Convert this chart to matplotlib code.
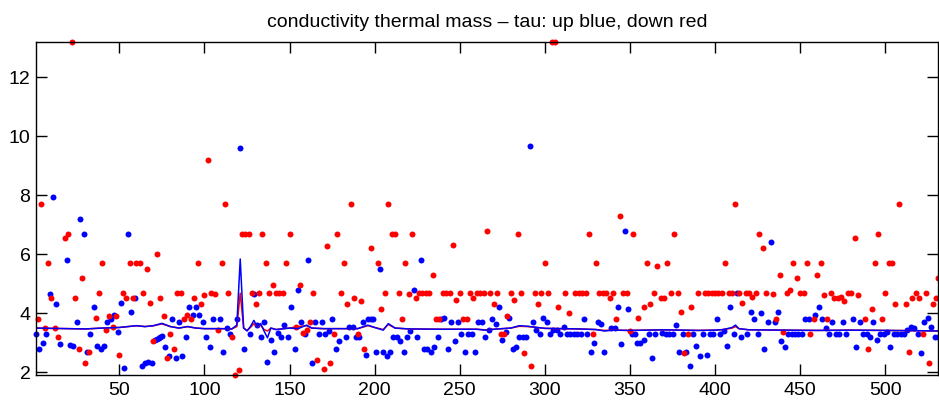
import numpy as np
import matplotlib
matplotlib.use("Agg")
import matplotlib.pyplot as plt

plt.rcParams['font.family'] = ['Liberation Sans', 'DejaVu Sans']

# "up" steps (blue)
up_x = [1, 3, 5, 7, 9, 11, 13, 15, 19, 21, 23, 25, 27, 29, 31, 33, 35, 37, 39, 41,
        43, 45, 47, 49, 51, 53, 55, 57, 59, 63, 65, 67, 69, 71, 72, 73, 74, 75, 77, 79,
        81, 83, 85, 87, 89, 91, 93, 95, 97, 99, 101, 103, 105, 109, 111, 113, 115, 119, 121, 123,
        127, 129, 131, 133, 135, 137, 139, 141, 143, 145, 147, 149, 151, 153, 155, 157, 159, 161, 163, 165,
        167, 169, 171, 173, 175, 177, 179, 183, 185, 187, 189, 191, 193, 195, 196, 198, 199, 201, 203, 205,
        207, 209, 211, 213, 215, 217, 219, 221, 223, 225, 227, 229, 231, 233, 235, 237, 239, 241, 243, 245,
        247, 249, 251, 253, 255, 257, 259, 261, 263, 265, 267, 269, 271, 273, 275, 277, 279, 281, 283, 285,
        287, 289, 291, 293, 295, 297, 299, 301, 303, 305, 307, 309, 311, 313, 315, 317, 319, 321, 323, 325,
        327, 329, 331, 333, 335, 339, 341, 343, 345, 347, 349, 351, 353, 354, 356, 358, 361, 363, 365, 369,
        371, 373, 375, 377, 379, 381, 383, 385, 387, 389, 391, 393, 395, 397, 399, 401, 403, 405, 407, 409,
        411, 413, 415, 419, 421, 423, 425, 427, 429, 431, 433, 435, 437, 439, 441, 443, 445, 447, 449, 451,
        453, 455, 459, 461, 463, 465, 467, 469, 471, 473, 475, 477, 481, 483, 485, 487, 489, 491, 493, 495,
        497, 499, 501, 503, 505, 507, 509, 511, 513, 515, 517, 519, 521, 523, 525, 527, 529, 531]
up_y = [3.31, 2.8, 3.0, 3.31, 4.65, 7.94, 4.3, 2.95, 5.81, 2.93, 2.9, 3.71, 7.21, 6.7, 2.7, 3.31, 4.2, 2.9, 2.8, 2.9,
        3.71, 3.81, 3.95, 3.36, 4.36, 2.16, 6.7, 4.06, 4.51, 2.2, 2.3, 2.36, 2.3, 3.1, 3.13, 3.16, 3.2, 3.22, 2.85, 2.55,
        3.81, 2.5, 3.71, 2.55, 3.2, 4.2, 3.95, 4.2, 3.95, 3.71, 3.2, 2.85, 3.81, 3.81, 2.7, 3.5, 3.3, 3.81, 9.59, 2.8,
        3.3, 4.65, 3.6, 3.2, 3.71, 2.35, 3.1, 2.7, 3.34, 3.2, 3.6, 3.2, 4.2, 2.8, 4.8, 3.71, 3.3, 5.81, 2.3, 3.71,
        3.3, 3.71, 3.3, 3.4, 3.81, 2.8, 3.06, 3.2, 3.55, 3.55, 3.2, 3.2, 3.71, 2.6, 3.81, 3.81, 3.81, 2.7, 5.5, 2.7,
        2.55, 2.7, 3.2, 3.2, 3.06, 2.7, 3.2, 3.4, 4.8, 3.2, 5.81, 2.8, 2.8, 2.7, 2.85, 3.2, 3.81, 3.85, 2.8, 3.71,
        3.06, 3.71, 3.3, 2.7, 3.3, 3.3, 2.7, 3.71, 3.71, 3.2, 3.45, 3.81, 3.65, 4.2, 3.1, 3.38, 3.85, 2.8, 2.85, 3.2,
        3.2, 3.2, 9.68, 3.71, 3.45, 3.3, 3.85, 3.71, 3.3, 3.45, 3.45, 3.3, 3.55, 3.3, 3.3, 3.3, 3.3, 3.3, 3.81, 3.3,
        2.7, 3.0, 3.71, 3.65, 2.7, 3.5, 3.5, 4.2, 2.95, 6.8, 4.16, 3.3, 3.3, 3.0, 3.0, 3.1, 3.3, 2.5, 3.3, 3.33,
        3.3, 3.3, 3.3, 3.6, 2.7, 3.3, 2.7, 2.2, 3.3, 2.9, 2.55, 3.3, 2.6, 3.3, 3.3, 3.81, 3.3, 3.4, 2.9, 4.2,
        3.3, 4.7, 3.2, 3.3, 4.06, 3.81, 3.3, 4.01, 2.8, 3.71, 6.4, 3.71, 4.06, 3.06, 2.85, 3.3, 3.3, 3.3, 3.3, 3.3,
        3.81, 3.81, 3.95, 4.2, 3.81, 3.5, 3.3, 3.71, 3.3, 3.3, 3.71, 3.3, 3.81, 2.85, 3.71, 3.3, 3.3, 3.2, 3.71, 3.1,
        3.3, 3.3, 3.36, 2.85, 3.3, 3.3, 3.3, 3.3, 3.45, 3.55, 3.5, 3.3, 2.65, 3.71, 3.85, 3.55, 3.2, 3.2]

# "down" steps (red)
down_x = [2, 4, 6, 8, 10, 12, 14, 18, 20, 22, 24, 26, 28, 30, 32, 36, 38, 40, 42, 44,
          46, 48, 50, 52, 54, 56, 58, 60, 62, 64, 66, 68, 70, 72, 74, 76, 78, 80, 82, 84,
          86, 88, 90, 92, 94, 96, 98, 100, 102, 104, 106, 108, 110, 112, 114, 116, 118, 120, 122, 124,
          126, 128, 130, 132, 134, 136, 138, 140, 142, 144, 146, 148, 150, 154, 156, 158, 160, 162, 164, 166,
          170, 172, 174, 176, 178, 180, 182, 184, 186, 188, 190, 192, 194, 198, 202, 204, 206, 208, 210, 212,
          214, 216, 218, 220, 222, 224, 226, 228, 230, 232, 234, 236, 238, 240, 242, 244, 246, 248, 250, 252,
          254, 256, 258, 260, 262, 264, 266, 268, 270, 272, 274, 276, 278, 280, 282, 284, 286, 288, 292, 294,
          296, 298, 300, 302, 304, 306, 308, 312, 314, 318, 320, 322, 324, 326, 328, 330, 332, 334, 336, 338,
          340, 342, 344, 346, 348, 350, 352, 355, 358, 360, 362, 364, 366, 368, 370, 372, 374, 376, 378, 380,
          382, 384, 386, 390, 394, 396, 398, 400, 402, 404, 406, 408, 410, 412, 414, 416, 418, 420, 422, 424,
          426, 428, 430, 434, 436, 438, 440, 442, 444, 446, 448, 450, 452, 454, 456, 458, 460, 462, 464, 466,
          468, 470, 472, 474, 476, 478, 480, 482, 484, 488, 490, 492, 494, 496, 498, 500, 502, 504, 506, 508,
          512, 514, 516, 518, 520, 522, 524, 526, 528, 530, 531]
down_y = [3.81, 7.7, 3.5, 5.69, 4.51, 3.5, 3.2, 6.55, 6.7, 13.2, 4.51, 2.8, 5.2, 2.3, 2.7, 3.85, 4.7, 5.69, 3.45, 3.91,
          3.55, 3.91, 2.6, 4.7, 4.51, 5.69, 4.51, 5.69, 5.69, 4.7, 5.5, 4.36, 3.06, 6.0, 4.51, 3.91, 2.5, 3.3, 2.8, 4.7,
          4.7, 3.81, 3.95, 3.81, 4.51, 5.69, 4.3, 4.61, 9.19, 4.7, 4.65, 3.45, 5.69, 7.7, 4.7, 3.2, 1.92, 2.08, 6.7, 6.7,
          6.7, 4.7, 4.3, 4.7, 6.7, 5.69, 4.7, 4.96, 4.7, 4.7, 4.7, 5.69, 6.7, 3.53, 4.96, 3.34, 3.45, 3.71, 4.7, 2.41,
          2.1, 6.29, 2.3, 3.3, 6.7, 4.7, 5.69, 4.3, 7.7, 4.51, 3.3, 4.4, 2.8, 6.2, 5.69, 4.16, 4.7, 7.7, 6.7, 6.7,
          4.7, 3.81, 5.69, 4.65, 6.7, 4.51, 4.7, 4.7, 4.7, 4.7, 5.3, 3.81, 3.81, 4.7, 4.7, 4.7, 6.3, 4.45, 4.7, 3.81,
          3.81, 4.7, 4.51, 4.7, 4.7, 4.7, 6.8, 4.7, 4.3, 4.7, 3.3, 3.3, 3.91, 4.7, 4.45, 6.7, 4.7, 2.65, 2.2, 4.7,
          4.3, 4.7, 5.69, 4.7, 13.2, 13.2, 4.2, 4.7, 4.01, 4.7, 4.7, 4.7, 4.7, 6.7, 3.3, 5.69, 4.7, 4.7, 4.7, 4.51,
          4.7, 3.81, 7.3, 4.7, 4.7, 3.4, 6.7, 3.85, 4.2, 5.69, 4.3, 4.7, 5.6, 4.51, 4.51, 5.69, 4.7, 6.7, 4.7, 4.06,
          2.65, 3.3, 4.2, 4.7, 4.7, 4.7, 4.7, 4.7, 4.7, 4.7, 5.69, 4.7, 4.7, 7.7, 4.7, 4.36, 4.7, 4.7, 4.55, 4.7,
          6.7, 6.2, 4.7, 4.65, 3.81, 5.3, 3.36, 4.7, 4.8, 5.69, 5.2, 4.7, 4.7, 5.69, 3.3, 3.81, 5.3, 5.69, 4.61, 3.81,
          4.7, 4.51, 4.51, 4.55, 4.4, 4.7, 4.7, 6.55, 4.61, 3.81, 2.8, 4.16, 5.69, 6.7, 3.81, 4.7, 5.69, 5.69, 4.3, 7.7,
          4.3, 2.7, 4.51, 4.7, 4.51, 3.3, 4.7, 2.3, 4.3, 4.51, 5.2]

# running mean of tau (red under blue)
mean_x = [1, 10, 20, 30, 40, 50, 55, 60, 65, 70, 75, 80, 85, 90, 95, 100, 110, 116, 119, 121,
          123, 125, 127, 129, 131, 133, 135, 137, 139, 142, 150, 155, 160, 163, 170, 180, 190, 196, 200, 205,
          208, 212, 220, 240, 260, 265, 270, 280, 285, 290, 300, 320, 330, 335, 340, 350, 370, 390, 400, 405,
          410, 412, 414, 420, 440, 460, 480, 500, 520, 531]
mean_up = [3.50, 3.49, 3.48, 3.47, 3.50, 3.52, 3.55, 3.58, 3.55, 3.58, 3.66, 3.55, 3.50, 3.55, 3.50, 3.48, 3.48, 3.47, 3.60, 5.84,
           3.50, 3.40, 3.55, 3.76, 3.55, 3.65, 3.40, 3.17, 3.50, 3.45, 3.50, 3.48, 3.60, 3.50, 3.48, 3.48, 3.48, 3.60, 3.52, 3.43,
           3.65, 3.50, 3.47, 3.46, 3.46, 3.43, 3.46, 3.50, 3.58, 3.56, 3.49, 3.47, 3.45, 3.40, 3.43, 3.42, 3.44, 3.42, 3.43, 3.45,
           3.52, 3.60, 3.48, 3.44, 3.43, 3.42, 3.43, 3.42, 3.41, 3.40]
mean_down = [3.50, 3.49, 3.48, 3.47, 3.50, 3.52, 3.55, 3.58, 3.55, 3.58, 3.64, 3.55, 3.50, 3.55, 3.50, 3.48, 3.48, 3.47, 3.55, 4.68,
             3.50, 3.42, 3.52, 3.65, 3.55, 3.60, 3.45, 3.40, 3.50, 3.45, 3.50, 3.55, 3.58, 3.50, 3.48, 3.48, 3.48, 3.58, 3.52, 3.45,
             3.62, 3.50, 3.47, 3.46, 3.46, 3.44, 3.46, 3.50, 3.56, 3.55, 3.49, 3.47, 3.45, 3.42, 3.43, 3.42, 3.44, 3.42, 3.43, 3.45,
             3.50, 3.55, 3.48, 3.44, 3.43, 3.42, 3.43, 3.42, 3.41, 3.40]

x_ticks = [50, 100, 150, 200, 250, 300, 350, 400, 450, 500]
y_ticks = [2, 4, 6, 8, 10, 12]

fig = plt.figure(figsize=(9.39, 4.07), dpi=100)
ax = fig.add_axes([36 / 939, 32 / 407, 902 / 939, 333 / 407])

ax.plot(up_x, up_y, 'o', color='b', ms=4.3, mec='none', clip_on=False)
ax.plot(down_x, down_y, 'o', color='r', ms=4.3, mec='none', clip_on=False)
ax.plot(mean_x, mean_down, '-', color='r', lw=1.1)
ax.plot(mean_x, mean_up, '-', color='b', lw=1.1)

ax.set_xlim(1, 531)
ax.set_ylim(1.91, 13.19)
ax.set_xticks(x_ticks)
ax.set_yticks(y_ticks)
ax.tick_params(direction='in', length=8, width=1, top=True, right=True, labelsize=14)
ax.tick_params(axis='x', pad=5)
ax.tick_params(axis='y', pad=4)
for s in ax.spines.values():
    s.set_linewidth(1)
ax.set_title('conductivity thermal mass \u2013 tau: up blue, down red', fontsize=14, pad=11)

fig.savefig('out.png', dpi=100)
